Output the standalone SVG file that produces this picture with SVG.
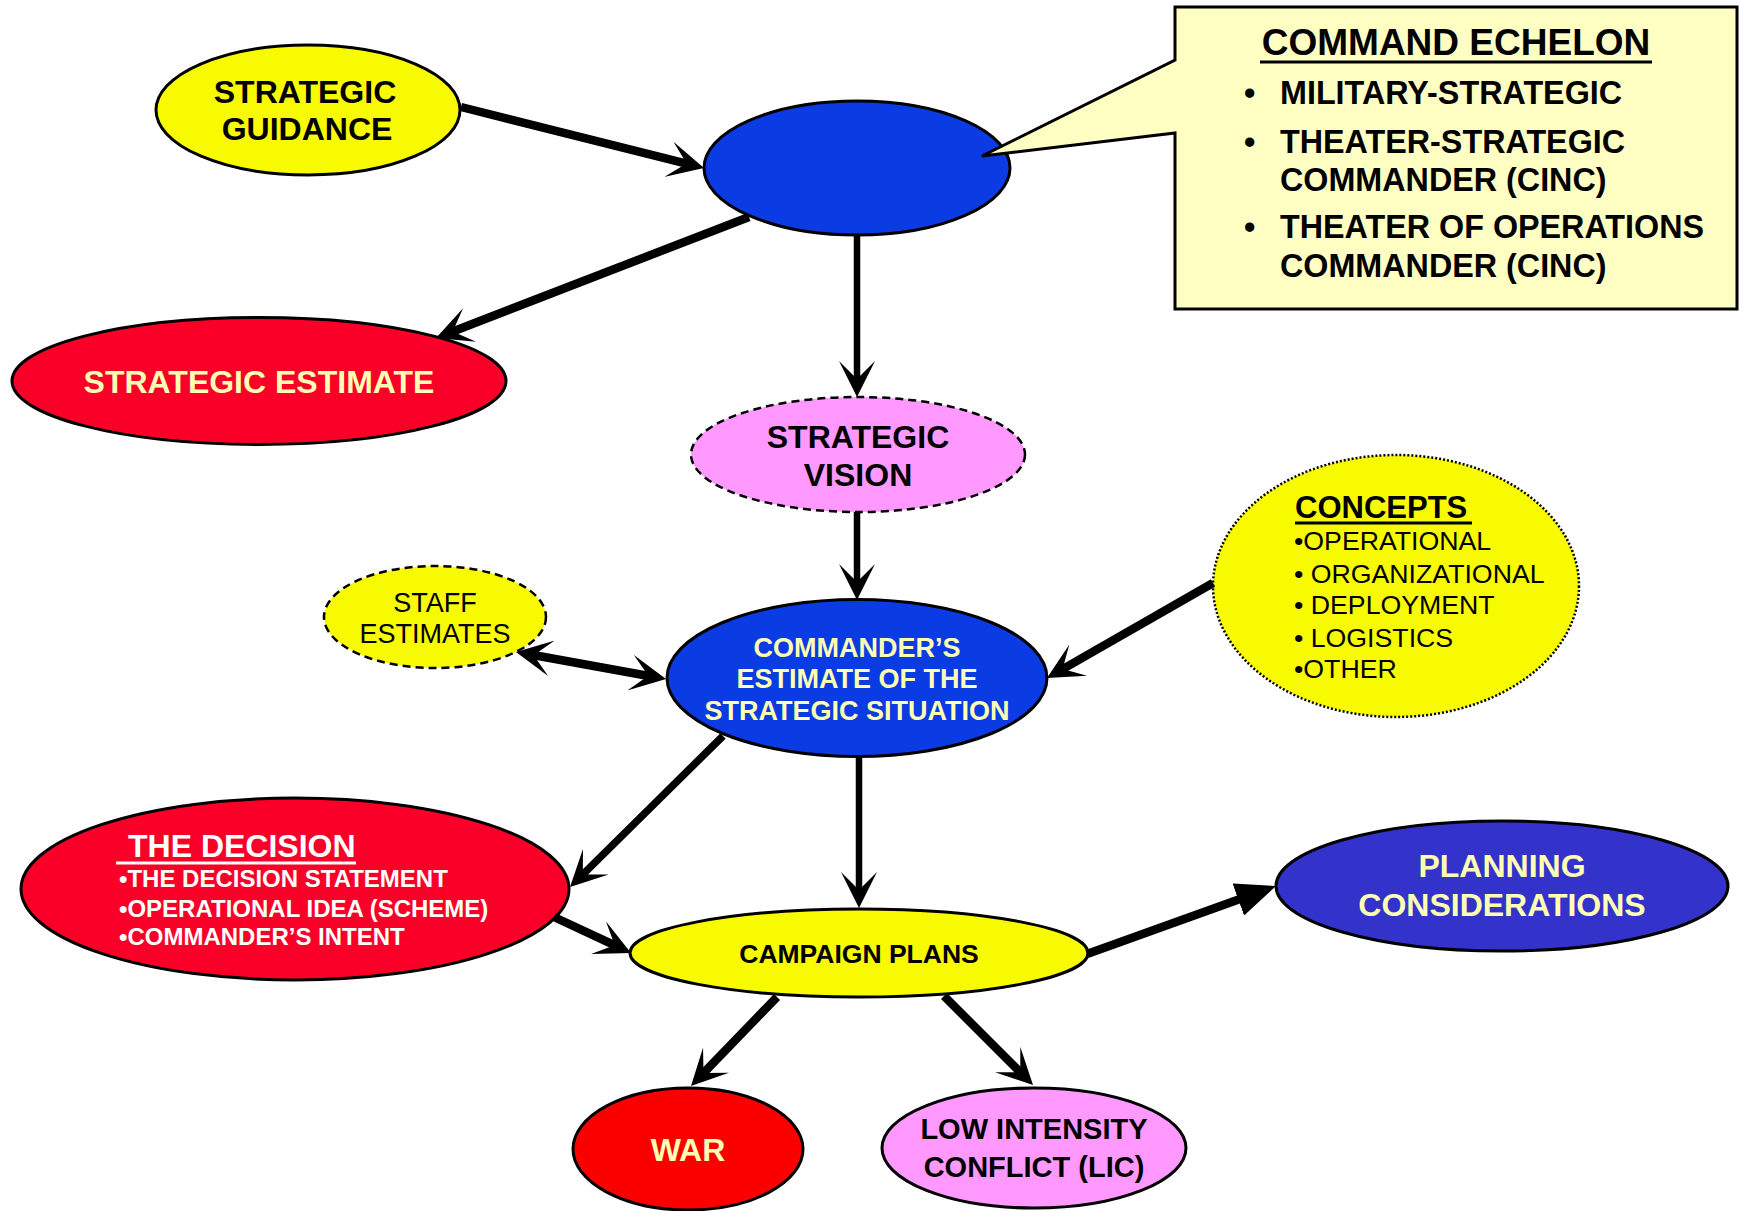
<svg xmlns="http://www.w3.org/2000/svg" width="1740" height="1211" viewBox="0 0 1740 1211">
<style>
  .node { stroke: #000; stroke-width: 3; }
  .dash { stroke-dasharray: 8 5; stroke-width: 2.5; }
  .dot { stroke-dasharray: 2 2; stroke-width: 2.5; }
  .yellow { fill: #F8FB00; }
  .blue { fill: #0B3BE3; }
  .red { fill: #FA0028; }
  .pure-red { fill: #FC0000; }
  .pink { fill: #FF99FF; }
  .indigo { fill: #3333CC; }
  text { font-family: "Liberation Sans", Arial, sans-serif; }
  .b { font-weight: bold; }
  .c { text-anchor: middle; }
  .k { fill: #000; }
  .ly { fill: #FFFFB4; }
  .w { fill: #FFFFFF; }
  .f32 { font-size: 32px; }
  .f27 { font-size: 27px; }
  .f24 { font-size: 24px; }
  .conn line { stroke: #000; stroke-width: 8.5; }
  .conn line.thin { stroke-width: 6.5; }
</style>
<defs>
  <marker id="stealth" viewBox="0 0 36 36" refX="20" refY="18" markerWidth="36" markerHeight="36" markerUnits="userSpaceOnUse" orient="auto-start-reverse">
    <path d="M36,18 L0,0 L18,18 L0,36 Z" fill="#000"/>
  </marker>
  <marker id="tri" viewBox="0 0 40 34" refX="24" refY="17" markerWidth="40" markerHeight="34" markerUnits="userSpaceOnUse" orient="auto">
    <path d="M40,17 L0,0 L0,34 Z" fill="#000"/>
  </marker>
</defs>
<rect width="1740" height="1211" fill="#fff"/>

<g id="strategic-guidance">
  <ellipse class="node yellow" cx="308" cy="110" rx="152" ry="65"/>
  <text class="b c k f32" x="305" y="103">STRATEGIC</text>
  <text class="b c k f32" x="307" y="140">GUIDANCE</text>
</g>

<g id="command">
  <ellipse class="node blue" cx="857" cy="168" rx="153" ry="67"/>
</g>

<g id="command-echelon">
  <path d="M1175,7 H1737 V309 H1175 V133 L982,156 L1175,60 Z" fill="#FFFFC4" stroke="#000" stroke-width="3"/>
  <text class="b c k" x="1456" y="55" font-size="37">COMMAND ECHELON</text>
  <line x1="1260" y1="62" x2="1652" y2="62" stroke="#000" stroke-width="3"/>
  <g class="b k" font-size="32.3">
    <text x="1244" y="104">•</text><text x="1280" y="104">MILITARY-STRATEGIC</text>
    <text x="1244" y="153">•</text><text x="1280" y="153">THEATER-STRATEGIC</text>
    <text x="1280" y="191">COMMANDER (CINC)</text>
    <text x="1244" y="238">•</text><text x="1280" y="238">THEATER OF OPERATIONS</text>
    <text x="1280" y="277">COMMANDER (CINC)</text>
  </g>
</g>

<g id="strategic-estimate">
  <ellipse class="node red" cx="259" cy="381" rx="247" ry="63.5"/>
  <text class="b c ly f32" x="259" y="393">STRATEGIC ESTIMATE</text>
</g>

<g id="strategic-vision">
  <ellipse class="node pink dash" cx="858" cy="454.5" rx="167" ry="57.5"/>
  <text class="b c k f32" x="858" y="448">STRATEGIC</text>
  <text class="b c k f32" x="858" y="486">VISION</text>
</g>

<g id="staff-estimates">
  <ellipse class="node yellow dash" cx="435" cy="617" rx="111" ry="51"/>
  <text class="c k f27" x="435" y="612">STAFF</text>
  <text class="c k f27" x="435" y="643">ESTIMATES</text>
</g>

<g id="commanders-estimate">
  <ellipse class="node blue" cx="857" cy="678" rx="190" ry="78.5"/>
  <text class="b c ly f27" x="857" y="657">COMMANDER’S</text>
  <text class="b c ly f27" x="857" y="688">ESTIMATE OF THE</text>
  <text class="b c ly f27" x="857" y="720">STRATEGIC SITUATION</text>
</g>

<g id="concepts">
  <ellipse class="node yellow dot" cx="1396" cy="586" rx="183" ry="131"/>
  <text class="b k" x="1295" y="518" font-size="31">CONCEPTS</text>
  <line x1="1295" y1="523" x2="1472" y2="523" stroke="#000" stroke-width="3"/>
  <g class="k" font-size="26.7">
    <text x="1294" y="550">•OPERATIONAL</text>
    <text x="1294" y="583">• ORGANIZATIONAL</text>
    <text x="1294" y="614">• DEPLOYMENT</text>
    <text x="1294" y="647">• LOGISTICS</text>
    <text x="1294" y="678">•OTHER</text>
  </g>
</g>

<g id="the-decision">
  <ellipse class="node red" cx="295" cy="889" rx="274" ry="91"/>
  <text class="b w f32" x="128" y="857">THE DECISION</text>
  <line x1="116" y1="863" x2="356" y2="863" stroke="#fff" stroke-width="3"/>
  <g class="b w f24">
    <text x="119" y="887">•THE DECISION STATEMENT</text>
    <text x="119" y="917">•OPERATIONAL IDEA (SCHEME)</text>
    <text x="119" y="945">•COMMANDER’S INTENT</text>
  </g>
</g>

<g id="campaign-plans">
  <ellipse class="node yellow" cx="859" cy="953" rx="229" ry="44"/>
  <text class="b c k" x="859" y="963" font-size="26.5">CAMPAIGN PLANS</text>
</g>

<g id="planning-considerations">
  <ellipse class="node indigo" cx="1502" cy="886" rx="226" ry="65" stroke-width="2.5"/>
  <text class="b c ly f32" x="1502" y="877">PLANNING</text>
  <text class="b c ly f32" x="1502" y="916">CONSIDERATIONS</text>
</g>

<g id="war">
  <ellipse class="node pure-red" cx="688" cy="1149" rx="115" ry="61"/>
  <text class="b c ly f32" x="688" y="1161">WAR</text>
</g>

<g id="low-intensity-conflict">
  <ellipse class="node pink" cx="1034" cy="1148" rx="152" ry="60"/>
  <text class="b c k" x="1034" y="1139" font-size="29">LOW INTENSITY</text>
  <text class="b c k" x="1034" y="1177" font-size="29">CONFLICT (LIC)</text>
</g>

<g id="connectors" class="conn">
  <line x1="461" y1="107" x2="688.5" y2="164.1" marker-end="url(#stealth)"/>
  <line x1="749" y1="217" x2="450.9" y2="332.2" marker-end="url(#stealth)"/>
  <line class="thin" x1="857" y1="236" x2="857" y2="381" marker-end="url(#stealth)"/>
  <line class="thin" x1="857" y1="512" x2="857" y2="584" marker-end="url(#stealth)"/>
  <line x1="531.7" y1="654.8" x2="650.3" y2="676.2" marker-start="url(#stealth)" marker-end="url(#stealth)"/>
  <line x1="1213" y1="583" x2="1060.9" y2="670.1" marker-end="url(#stealth)"/>
  <line x1="723" y1="736" x2="581.4" y2="875.8" stroke-width="7.5" style="stroke-width:7.5" marker-end="url(#stealth)"/>
  <line class="thin" x1="859" y1="757" x2="859" y2="892" marker-end="url(#stealth)"/>
  <line x1="554" y1="917" x2="616.5" y2="946.2" marker-end="url(#stealth)"/>
  <line x1="1087" y1="954" x2="1260.9" y2="891.4" marker-end="url(#tri)"/>
  <line x1="777" y1="997" x2="702.1" y2="1074.5" marker-end="url(#stealth)"/>
  <line x1="944" y1="996" x2="1021.7" y2="1073.7" marker-end="url(#stealth)"/>
</g>
</svg>
